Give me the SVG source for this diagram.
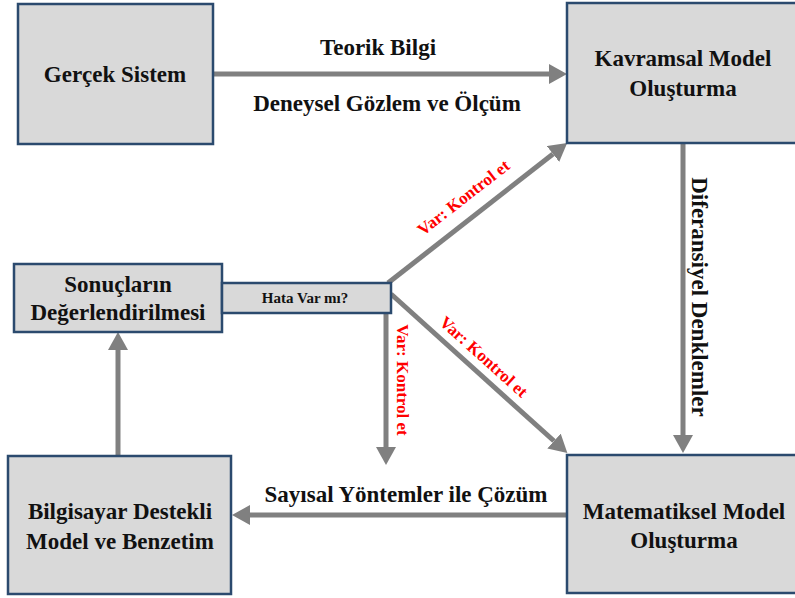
<svg xmlns="http://www.w3.org/2000/svg" width="795" height="598" viewBox="0 0 795 598">
<style>
.box{fill:#d9d9d9;stroke:#2b4a6e;stroke-width:2.5}
.t{font-family:'Liberation Serif','Times New Roman','DejaVu Serif',serif;font-weight:bold;fill:#111;text-anchor:middle}
.big{font-size:23px}
.red{font-family:'Liberation Serif','Times New Roman','DejaVu Serif',serif;font-weight:bold;fill:#ff0000;font-size:17px;text-anchor:middle}
.ln{stroke:#808080;stroke-width:5;fill:none;marker-end:url(#ah)}
</style>
<defs>
<marker id="ah" markerUnits="userSpaceOnUse" markerWidth="18" markerHeight="20" refX="0" refY="10" orient="auto" viewBox="0 0 18 20">
<path d="M0,0 L18,10 L0,20 z" fill="#808080"/>
</marker>
</defs>
<rect width="795" height="598" fill="#fff"/>
<g id="connectors">
<line class="ln" x1="214" y1="74" x2="549" y2="74"/>
<line class="ln" x1="683" y1="143" x2="683" y2="435"/>
<line class="ln" x1="567" y1="515" x2="250" y2="515"/>
<line class="ln" x1="118" y1="456" x2="118" y2="350"/>
<line class="ln" x1="388" y1="283" x2="553" y2="154"/>
<line class="ln" x1="391" y1="294" x2="554" y2="441"/>
<line class="ln" x1="386" y1="313" x2="386" y2="447"/>
</g>
<g id="gercek">
<rect class="box" x="18" y="4" width="195" height="140"/>
<text class="t big" x="115" y="82">Gerçek Sistem</text>
</g>
<g id="kavramsal">
<rect class="box" x="567" y="3" width="240" height="140"/>
<text class="t big" x="683" y="66">Kavramsal Model</text>
<text class="t big" x="683" y="96">Oluşturma</text>
</g>
<g id="sonuclar">
<rect class="box" x="14" y="264" width="208" height="68"/>
<text class="t big" x="118" y="292">Sonuçların</text>
<text class="t big" x="118" y="320">Değerlendirilmesi</text>
</g>
<g id="hata">
<rect class="box" x="222" y="283" width="169" height="30"/>
<text class="t" x="305" y="303" font-size="15">Hata Var mı?</text>
</g>
<g id="bilgisayar">
<rect class="box" x="8" y="456" width="223" height="138"/>
<text class="t big" x="120" y="519">Bilgisayar Destekli</text>
<text class="t big" x="120" y="549">Model ve Benzetim</text>
</g>
<g id="matematiksel">
<rect class="box" x="567" y="455" width="240" height="138"/>
<text class="t big" x="684" y="519">Matematiksel Model</text>
<text class="t big" x="684" y="548">Oluşturma</text>
</g>
<g id="labels">
<text class="t big" x="378" y="55">Teorik Bilgi</text>
<text class="t big" x="387" y="111">Deneysel Gözlem ve Ölçüm</text>
<text class="t big" x="406" y="502">Sayısal Yöntemler ile Çözüm</text>
<text class="t big" transform="translate(692,297) rotate(90)">Diferansiyel Denklemler</text>
<text class="red" transform="translate(467,202) rotate(-37.8)">Var: Kontrol et</text>
<text class="red" transform="translate(480,361) rotate(42)">Var: Kontrol et</text>
<text class="red" transform="translate(397,380) rotate(90)">Var: Kontrol et</text>
</g>
</svg>
